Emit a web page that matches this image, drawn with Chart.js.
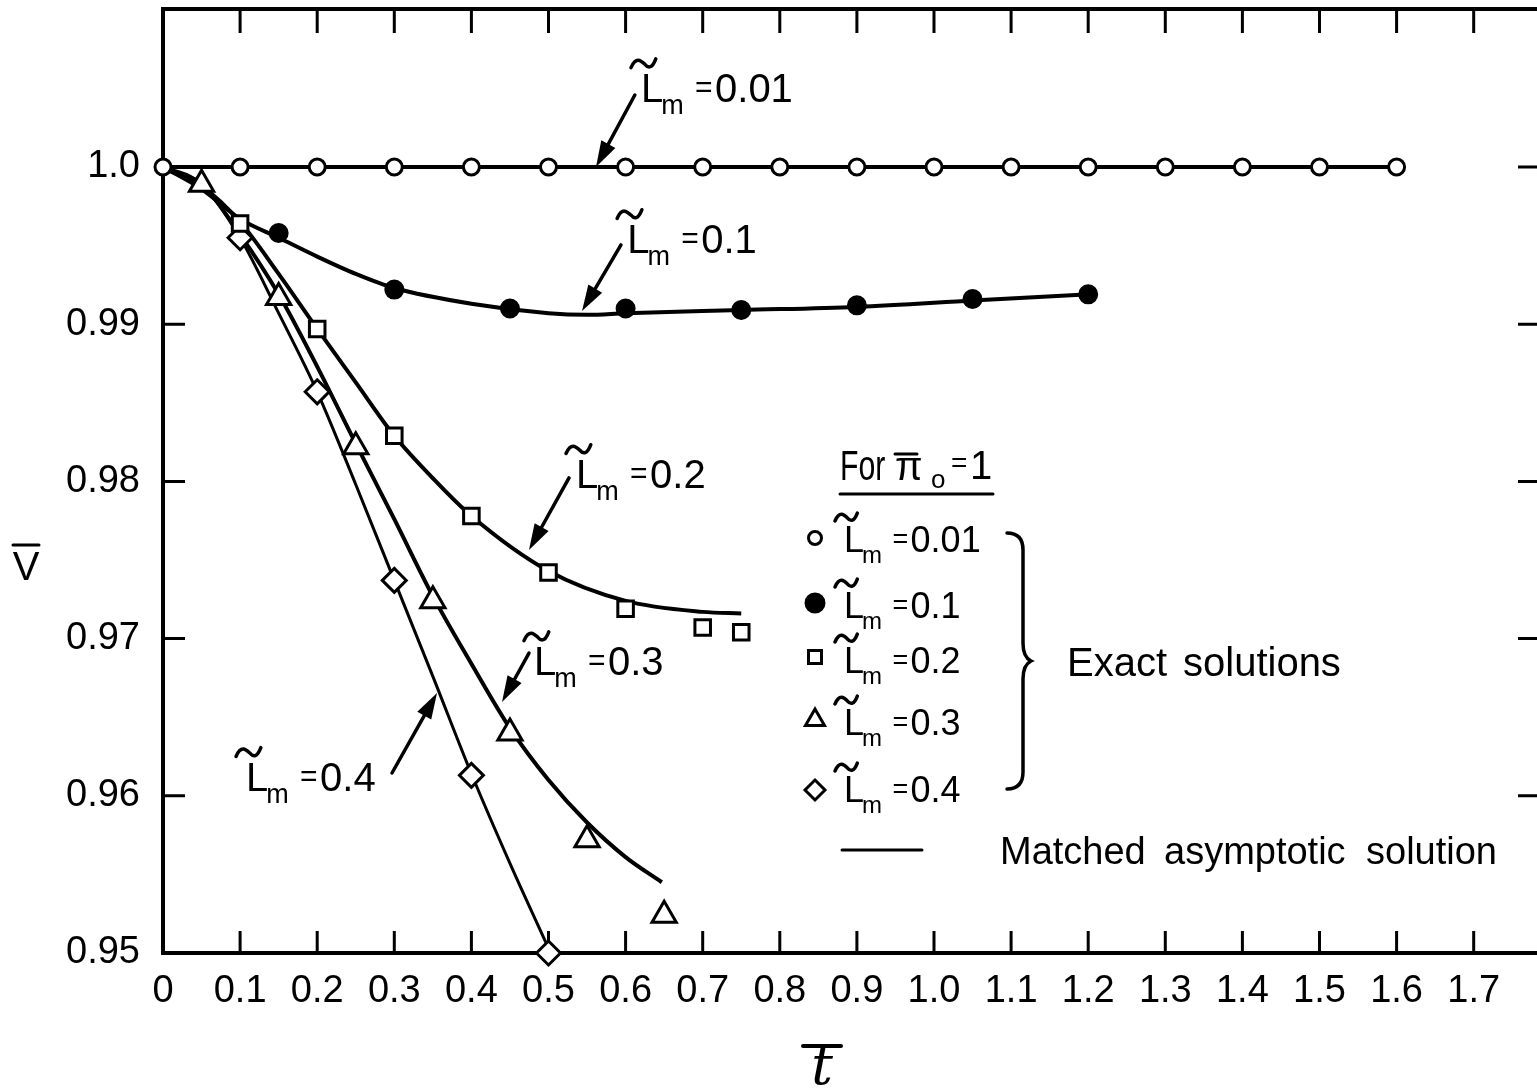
<!DOCTYPE html>
<html>
<head>
<meta charset="utf-8">
<script src="https://cdn.jsdelivr.net/npm/chart.js@4.4.1/dist/chart.umd.min.js"></script>
<style>
  html, body { margin: 0; padding: 0; background: #fff; overflow: hidden; }
  #wrap { width: 1548px; height: 1089px; }
</style>
</head>
<body>
<div id="wrap"><canvas id="chart" width="1548" height="1089"></canvas></div>
<script>
// Axis ticks
const xTickValues = [0, 0.1, 0.2, 0.3, 0.4, 0.5, 0.6, 0.7, 0.8, 0.9, 1.0, 1.1, 1.2, 1.3, 1.4, 1.5, 1.6, 1.7];
const xTickLabels = ['0', '0.1', '0.2', '0.3', '0.4', '0.5', '0.6', '0.7', '0.8', '0.9', '1.0', '1.1', '1.2', '1.3', '1.4', '1.5', '1.6', '1.7'];
const yTickValues = [0.95, 0.96, 0.97, 0.98, 0.99, 1.0];
const yTickLabels = ['0.95', '0.96', '0.97', '0.98', '0.99', '1.0'];

// Exact solutions (markers)
const tExact001 = [0, 0.1, 0.2, 0.3, 0.4, 0.5, 0.6, 0.7, 0.8, 0.9, 1.0, 1.1, 1.2, 1.3, 1.4, 1.5, 1.6];
const vExact001 = [1.0, 1.0, 1.0, 1.0, 1.0, 1.0, 1.0, 1.0, 1.0, 1.0, 1.0, 1.0, 1.0, 1.0, 1.0, 1.0, 1.0];
const tExact01 = [0.15, 0.30, 0.45, 0.60, 0.75, 0.90, 1.05, 1.20];
const vExact01 = [0.9958, 0.9922, 0.9910, 0.9910, 0.9909, 0.9912, 0.9916, 0.9919];
const tExact02 = [0.1, 0.2, 0.3, 0.4, 0.5, 0.6, 0.7, 0.75];
const vExact02 = [0.9964, 0.9897, 0.9829, 0.9778, 0.9742, 0.9719, 0.9707, 0.9704];
const tExact03 = [0.05, 0.15, 0.25, 0.35, 0.45, 0.55, 0.65];
const vExact03 = [0.9989, 0.9917, 0.9822, 0.9724, 0.9640, 0.9572, 0.9524];
const tExact04 = [0.1, 0.2, 0.3, 0.4, 0.5];
const vExact04 = [0.9955, 0.9857, 0.9737, 0.9613, 0.9500];

// Matched asymptotic solution (curves)
const tCurve001 = [0, 1.6];
const vCurve001 = [1.0, 1.0];
const tCurve01 = [0, 0.05, 0.1, 0.15, 0.2, 0.25, 0.3, 0.4, 0.5, 0.55, 0.6, 0.75, 0.9, 1.05, 1.2];
const vCurve01 = [1.0, 0.9986, 0.9967, 0.9955, 0.9943, 0.9932, 0.9923, 0.9913, 0.9907, 0.9906, 0.9907, 0.9909, 0.9911, 0.9915, 0.9919];
const tCurve02 = [0, 0.05, 0.1, 0.15, 0.2, 0.25, 0.3, 0.35, 0.4, 0.5, 0.6, 0.7, 0.75];
const vCurve02 = [1.0, 0.9988, 0.9965, 0.9932, 0.9897, 0.9863, 0.9829, 0.9802, 0.9778, 0.9743, 0.9724, 0.9717, 0.9716];
const tCurve03 = [0, 0.05, 0.1, 0.15, 0.2, 0.25, 0.3, 0.35, 0.4, 0.45, 0.5, 0.55, 0.6, 0.647];
const vCurve03 = [1.0, 0.9989, 0.9957, 0.9919, 0.9873, 0.9824, 0.9776, 0.9727, 0.9684, 0.9643, 0.9610, 0.9583, 0.9561, 0.9545];
const tCurve04 = [0, 0.05, 0.1, 0.15, 0.2, 0.25, 0.3, 0.35, 0.4, 0.45, 0.5];
const vCurve04 = [1.0, 0.9989, 0.9955, 0.9907, 0.9857, 0.9798, 0.9737, 0.9676, 0.9614, 0.9557, 0.9503];

const lmValues = ['0.01', '0.1', '0.2', '0.3', '0.4'];

const FONT = "'Liberation Sans', Arial, sans-serif";

function pts(t, v) {
    return t.map((x, i) => ({ x: x, y: v[i] }));
}

function markerSet(t, v, style, radius, fill, bw) {
    return {
        data: pts(t, v),
        showLine: false,
        pointStyle: style,
        pointRadius: radius,
        pointBorderWidth: bw,
        pointBorderColor: '#000',
        pointBackgroundColor: fill,
        clip: false,
        order: 1
    };
}

function curveSet(t, v, width) {
    return {
        data: pts(t, v),
        showLine: true,
        pointRadius: 0,
        borderColor: '#000',
        borderWidth: width,
        cubicInterpolationMode: 'monotone',
        fill: false,
        clip: false,
        order: 2
    };
}

function drawTilde(ctx, x0, cy, w, h) {
    ctx.beginPath();
    ctx.moveTo(x0, cy + h * 0.4);
    ctx.bezierCurveTo(x0 + w * 0.2, cy - h * 0.9, x0 + w * 0.4, cy - h * 0.4, x0 + w * 0.55, cy);
    ctx.bezierCurveTo(x0 + w * 0.7, cy + h * 0.5, x0 + w * 0.85, cy + h * 0.5, x0 + w, cy - h * 0.6);
    ctx.lineWidth = 3.5;
    ctx.stroke();
}

// "L~m = value", x/y is the left baseline of the L
function drawLm(ctx, x, y, value, size) {
    ctx.textAlign = 'left';
    ctx.textBaseline = 'alphabetic';
    ctx.font = size + 'px ' + FONT;
    ctx.fillText('L', x, y);
    const lw = ctx.measureText('L').width;
    drawTilde(ctx, x - size * 0.25, y - size * 0.95, size * 0.62, size * 0.22);
    ctx.font = Math.round(size * 0.68) + 'px ' + FONT;
    ctx.fillText('m', x + lw - 2, y + size * 0.3);
    ctx.font = Math.round(size * 0.75) + 'px ' + FONT;
    ctx.fillText('=', x + size * 1.35, y - size * 0.12);
    ctx.font = size + 'px ' + FONT;
    ctx.fillText(value, x + size * 1.85, y);
}

function drawArrow(ctx, x1, y1, x2, y2) {
    const a = Math.atan2(y2 - y1, x2 - x1);
    const len = 26, half = 8;
    const c = Math.cos(a), s = Math.sin(a);
    ctx.lineWidth = 3.5;
    ctx.beginPath();
    ctx.moveTo(x1, y1);
    ctx.lineTo(x2 - c * len * 0.8, y2 - s * len * 0.8);
    ctx.stroke();
    ctx.beginPath();
    ctx.moveTo(x2, y2);
    ctx.lineTo(x2 - len * c + half * s, y2 - len * s - half * c);
    ctx.lineTo(x2 - len * c - half * s, y2 - len * s + half * c);
    ctx.closePath();
    ctx.fill();
}

function drawMarker(ctx, style, x, y, r, filled) {
    ctx.beginPath();
    if (style === 'circle') {
        ctx.arc(x, y, r, 0, Math.PI * 2);
    } else if (style === 'rect') {
        ctx.rect(x - r, y - r, 2 * r, 2 * r);
    } else if (style === 'triangle') {
        ctx.moveTo(x, y - r);
        ctx.lineTo(x + r * 0.866, y + r * 0.5);
        ctx.lineTo(x - r * 0.866, y + r * 0.5);
        ctx.closePath();
    } else {
        ctx.moveTo(x, y - r);
        ctx.lineTo(x + r, y);
        ctx.lineTo(x, y + r);
        ctx.lineTo(x - r, y);
        ctx.closePath();
    }
    ctx.fillStyle = filled ? '#000' : '#fff';
    ctx.fill();
    ctx.lineWidth = 3;
    ctx.stroke();
    ctx.fillStyle = '#000';
}

// label anchors and arrows in data units (t, V)
const labelAnchors = [
    { at: [0.620, 1.00413], from: [0.612, 1.00458], to: [0.5616, 1.0] },
    { at: [0.602, 0.99453], from: [0.594, 0.99504], to: [0.5435, 0.99084] },
    { at: [0.5357, 0.97958], from: [0.5266, 0.98022], to: [0.4747, 0.97564] },
    { at: [0.4812, 0.96768], from: [0.4747, 0.96908], to: [0.4397, 0.96597] },
    { at: [0.1077, 0.96031], from: [0.297, 0.96145], to: [0.3554, 0.96654] }
];

const framePlugin = {
    id: 'frame',
    beforeDatasetsDraw(chart) {
        const ctx = chart.ctx;
        const a = chart.chartArea;
        const xs = chart.scales.x, ys = chart.scales.y;
        ctx.save();
        ctx.strokeStyle = '#000';
        ctx.lineWidth = 4;
        ctx.beginPath();
        ctx.moveTo(a.right, a.top);
        ctx.lineTo(a.left, a.top);
        ctx.lineTo(a.left, a.bottom);
        ctx.lineTo(a.right, a.bottom);
        ctx.lineTo(a.right, a.top);
        ctx.stroke();
        ctx.lineWidth = 3;
        ctx.beginPath();
        xTickValues.slice(1).forEach(v => {
            const x = xs.getPixelForValue(v);
            ctx.moveTo(x, a.bottom); ctx.lineTo(x, a.bottom - 22);
            ctx.moveTo(x, a.top); ctx.lineTo(x, a.top + 24);
        });
        yTickValues.slice(1).forEach(v => {
            const y = ys.getPixelForValue(v);
            ctx.moveTo(a.left, y); ctx.lineTo(a.left + 22, y);
            ctx.moveTo(a.right, y); ctx.lineTo(a.right - 22, y);
        });
        ctx.stroke();
        ctx.restore();
    },
    afterDatasetsDraw(chart) {
        const ctx = chart.ctx;
        const xs = chart.scales.x, ys = chart.scales.y;
        const px = v => xs.getPixelForValue(v);
        const py = v => ys.getPixelForValue(v);
        ctx.save();
        ctx.fillStyle = '#000';
        ctx.strokeStyle = '#000';
        ctx.lineCap = 'round';

        // curve labels with arrows
        labelAnchors.forEach((l, i) => {
            drawLm(ctx, px(l.at[0]), py(l.at[1]), lmValues[i], 40);
            drawArrow(ctx, px(l.from[0]), py(l.from[1]), px(l.to[0]), py(l.to[1]));
        });

        // legend header
        ctx.textAlign = 'left';
        ctx.textBaseline = 'alphabetic';
        ctx.font = '42px ' + FONT;
        ctx.save();
        ctx.translate(840, 480);
        ctx.scale(0.72, 1);
        ctx.fillText('For', 0, 0);
        ctx.restore();
        ctx.font = '40px ' + FONT;
        ctx.fillText('\u03c0', 895, 480);
        ctx.lineWidth = 3;
        ctx.beginPath(); ctx.moveTo(895, 454); ctx.lineTo(917, 454); ctx.stroke();
        ctx.font = '26px ' + FONT;
        ctx.fillText('o', 931, 488);
        ctx.font = '28px ' + FONT;
        ctx.fillText('=', 951, 472);
        ctx.font = '40px ' + FONT;
        ctx.fillText('1', 970, 479);
        ctx.beginPath(); ctx.moveTo(840, 494); ctx.lineTo(993, 494); ctx.stroke();

        // legend rows
        const rowY = [538, 603, 657, 720, 790];
        const rowBase = [552, 618, 673, 735, 802];
        const rowStyle = ['circle', 'circle', 'rect', 'triangle', 'rectRot'];
        const rowR = [6.5, 9, 6.5, 11, 10];
        rowY.forEach((y, i) => {
            drawMarker(ctx, rowStyle[i], 815, y, rowR[i], i === 1);
            drawLm(ctx, 844, rowBase[i], lmValues[i], 36);
        });

        // brace
        ctx.lineWidth = 3.5;
        ctx.beginPath();
        ctx.moveTo(1007, 533);
        ctx.quadraticCurveTo(1023, 533, 1023, 550);
        ctx.lineTo(1023, 643);
        ctx.quadraticCurveTo(1023, 657, 1031, 661);
        ctx.quadraticCurveTo(1023, 665, 1023, 679);
        ctx.lineTo(1023, 772);
        ctx.quadraticCurveTo(1023, 789, 1007, 789);
        ctx.stroke();

        ctx.font = '40px ' + FONT;
        ctx.fillText('Exact', 1067, 676);
        ctx.fillText('solutions', 1183, 676);

        ctx.lineWidth = 3;
        ctx.beginPath(); ctx.moveTo(842, 850); ctx.lineTo(922, 850); ctx.stroke();
        ctx.font = '38px ' + FONT;
        ctx.fillText('Matched', 1000, 864);
        ctx.fillText('asymptotic', 1164, 864);
        ctx.fillText('solution', 1366, 864);

        // axis titles
        ctx.textAlign = 'center';
        ctx.font = '40px ' + FONT;
        ctx.fillText('V', 26, 580);
        ctx.beginPath(); ctx.moveTo(13, 545); ctx.lineTo(39, 545); ctx.stroke();
        ctx.font = "italic 54px 'DejaVu Serif', serif";
        ctx.fillText('t', 822, 1084);
        ctx.lineWidth = 4;
        ctx.beginPath(); ctx.moveTo(803, 1046); ctx.lineTo(841, 1046); ctx.stroke();
        ctx.restore();
    }
};

const tickFont = { family: FONT, size: 38 };

new Chart(document.getElementById('chart'), {
    type: 'line',
    data: {
        datasets: [
            markerSet(tExact001, vExact001, 'circle', 8, '#fff', 3),
            markerSet(tExact01, vExact01, 'circle', 9, '#000', 2),
            markerSet(tExact02, vExact02, 'rect', 11, '#fff', 3),
            markerSet(tExact03, vExact03, 'triangle', 14, '#fff', 3),
            markerSet(tExact04, vExact04, 'rectRot', 12, '#fff', 3),
            curveSet(tCurve001, vCurve001, 4),
            curveSet(tCurve01, vCurve01, 4),
            curveSet(tCurve02, vCurve02, 4),
            curveSet(tCurve03, vCurve03, 4),
            curveSet(tCurve04, vCurve04, 3)
        ]
    },
    options: {
        responsive: false,
        animation: false,
        events: [],
        layout: { autoPadding: false, padding: { top: 9, right: 8, bottom: 0, left: 0 } },
        scales: {
            x: {
                type: 'linear',
                min: 0,
                max: 1.786,
                grid: { display: false, drawTicks: false },
                border: { display: false },
                afterBuildTicks: s => { s.ticks = xTickValues.map(v => ({ value: v })); },
                afterFit: s => { s.height = 136; s.paddingLeft = 0; s.paddingRight = 0; },
                ticks: {
                    callback: (v, i) => xTickLabels[i],
                    padding: 16,
                    color: '#000',
                    font: tickFont,
                    maxRotation: 0,
                    autoSkip: false
                }
            },
            y: {
                type: 'linear',
                min: 0.95,
                max: 1.01005,
                grid: { display: false, drawTicks: false },
                border: { display: false },
                afterBuildTicks: s => { s.ticks = yTickValues.map(v => ({ value: v })); },
                afterFit: s => { s.width = 163; s.paddingTop = 0; s.paddingBottom = 0; },
                ticks: {
                    callback: (v, i) => yTickLabels[i],
                    padding: 23,
                    color: '#000',
                    font: tickFont,
                    autoSkip: false
                }
            }
        },
        plugins: {
            legend: { display: false },
            tooltip: { enabled: false }
        }
    },
    plugins: [framePlugin]
});
</script>
</body>
</html>
